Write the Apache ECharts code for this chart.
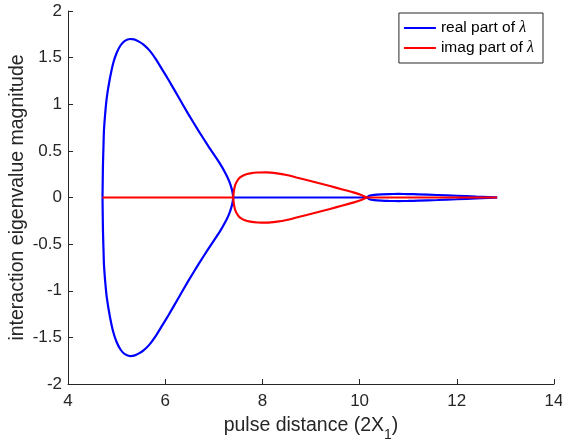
<!DOCTYPE html>
<html><head><meta charset="utf-8">
<script src="https://cdn.jsdelivr.net/npm/echarts@6/dist/echarts.min.js"></script>
<style>html,body{margin:0;padding:0;background:#fff}#c{width:562px;height:440px}</style>
</head><body><div id="c"></div>
<script>
const xTicks = [4, 6, 8, 10, 12, 14];
const yTicks = [-2, -1.5, -1, -0.5, 0, 0.5, 1, 1.5, 2];

const realLoopUpper = [[4.71,0],[4.715,0.2],[4.72,0.37],[4.73,0.55],[4.74,0.72],[4.765,0.9],[4.80,1.08],[4.86,1.27],[4.93,1.44],[5.0,1.55],[5.08,1.63],[5.17,1.68],[5.28,1.70],[5.36,1.696],[5.46,1.672],[5.56,1.637],[5.68,1.575],[5.80,1.49],[5.93,1.38],[6.07,1.26],[6.27,1.08],[6.47,0.90],[6.68,0.72],[6.90,0.54],[7.13,0.36],[7.25,0.25],[7.32,0.17],[7.37,0.09],[7.39,0.04],[7.40,0]];
const realLoopLower = [[4.71,0],[4.715,-0.2],[4.72,-0.37],[4.73,-0.55],[4.74,-0.72],[4.765,-0.9],[4.80,-1.08],[4.86,-1.27],[4.93,-1.44],[5.0,-1.55],[5.08,-1.63],[5.17,-1.68],[5.28,-1.70],[5.36,-1.696],[5.46,-1.672],[5.56,-1.637],[5.68,-1.575],[5.80,-1.49],[5.93,-1.38],[6.07,-1.26],[6.27,-1.08],[6.47,-0.90],[6.68,-0.72],[6.90,-0.54],[7.13,-0.36],[7.25,-0.25],[7.32,-0.17],[7.37,-0.09],[7.39,-0.04],[7.40,0]];
const realZero = [[7.40,0],[10.15,0]];
const realSmallUpper = [[10.15,0],[10.2,0.018],[10.3,0.028],[10.45,0.034],[10.6,0.037],[10.8,0.038],[11.0,0.037],[11.2,0.034],[11.6,0.027],[12.0,0.019],[12.4,0.010],[12.65,0.005],[12.83,0]];
const realSmallLower = [[10.15,0],[10.2,-0.018],[10.3,-0.028],[10.45,-0.034],[10.6,-0.037],[10.8,-0.038],[11.0,-0.037],[11.2,-0.034],[11.6,-0.027],[12.0,-0.019],[12.4,-0.010],[12.65,-0.005],[12.83,0]];

const imagZeroLeft = [[4.71,0],[7.40,0]];
const imagLoopUpper = [[7.40,0],[7.41,0.06],[7.44,0.134],[7.49,0.185],[7.54,0.216],[7.64,0.245],[7.75,0.259],[7.90,0.268],[8.09,0.27],[8.30,0.259],[8.50,0.241],[8.70,0.215],[8.91,0.188],[9.15,0.155],[9.39,0.123],[9.63,0.089],[9.87,0.055],[10.02,0.03],[10.15,0]];
const imagLoopLower = [[7.40,0],[7.41,-0.06],[7.44,-0.134],[7.49,-0.185],[7.54,-0.216],[7.64,-0.245],[7.75,-0.259],[7.90,-0.268],[8.09,-0.27],[8.30,-0.259],[8.50,-0.241],[8.70,-0.215],[8.91,-0.188],[9.15,-0.155],[9.39,-0.123],[9.63,-0.089],[9.87,-0.055],[10.02,-0.03],[10.15,0]];
const imagZeroRight = [[10.15,0],[12.83,0]];

const REAL = 'real part of λ', IMAG = 'imag part of λ';
const font = 'Liberation Sans, Arial, Helvetica, sans-serif';
const axisColor = '#262626';

function mk(name, data, color, smooth) {
  return { name, type: 'line', data, showSymbol: false, symbol: 'none', smooth: smooth || false,
    lineStyle: { color, width: 2.2 }, itemStyle: { color }, animation: false, z: color === '#ff0000' ? 3 : 2 };
}

const chart = echarts.init(document.getElementById('c'), null, { renderer: 'canvas' });
chart.setOption({
  backgroundColor: '#ffffff',
  animation: false,
  grid: { left: 68, right: 8, top: 11, bottom: 56, containLabel: false, outerBoundsMode: 'none' },
  legend: {
    data: [REAL, IMAG], orient: 'vertical', right: 19, top: 13,
    icon: 'rect', itemWidth: 32, itemHeight: 2, itemGap: 4,
    padding: [7, 9, 7, 5], borderColor: '#262626', borderWidth: 1, backgroundColor: '#fff',
    textStyle: { fontFamily: font, fontSize: 15.5, color: '#000',
      rich: { l: { fontFamily: 'Liberation Serif, DejaVu Serif, serif', fontStyle: 'italic', fontSize: 16, color: '#000' } } },
    formatter: n => n.replace('λ', '{l|λ}')
  },
  xAxis: {
    type: 'value', min: 4, max: 14, interval: 2,
    name: '{a|pulse distance (2X}{s|1}{a|)}', nameLocation: 'middle', nameGap: 32, nameMoveOverlap: false,
    nameTextStyle: { rich: { a: { fontFamily: font, fontSize: 19.5, color: axisColor },
      s: { fontFamily: font, fontSize: 14, color: axisColor, verticalAlign: 'bottom', padding: [0, 0, -6, 0] } } },
    axisLine: { show: true, onZero: false, lineStyle: { color: axisColor, width: 1 } },
    axisTick: { show: true, inside: true, length: 5, lineStyle: { color: axisColor } },
    axisLabel: { fontFamily: font, fontSize: 17, color: axisColor, margin: 9,
      formatter: v => xTicks.includes(v) ? String(v) : '' },
    splitLine: { show: false }
  },
  yAxis: {
    type: 'value', min: -2, max: 2, interval: 0.5,
    name: 'interaction eigenvalue magnitude', nameLocation: 'middle', nameGap: 40, nameRotate: 90, nameMoveOverlap: false,
    nameTextStyle: { fontFamily: font, fontSize: 19.5, color: axisColor },
    axisLine: { show: true, onZero: false, lineStyle: { color: axisColor, width: 1 } },
    axisTick: { show: true, inside: true, length: 5, lineStyle: { color: axisColor } },
    axisLabel: { fontFamily: font, fontSize: 17, color: axisColor, margin: 6,
      formatter: v => yTicks.includes(v) ? String(v) : '' },
    splitLine: { show: false }
  },
  series: [
    mk(REAL, realZero, '#0000ff'),
    mk(REAL, realLoopUpper, '#0000ff', 0.2),
    mk(REAL, realLoopLower, '#0000ff', 0.2),
    mk(REAL, realSmallUpper, '#0000ff', 0.2),
    mk(REAL, realSmallLower, '#0000ff', 0.2),
    mk(IMAG, imagZeroLeft, '#ff0000'),
    mk(IMAG, imagLoopUpper, '#ff0000', 0.2),
    mk(IMAG, imagLoopLower, '#ff0000', 0.2),
    mk(IMAG, imagZeroRight, '#ff0000')
  ]
});
</script></body></html>
